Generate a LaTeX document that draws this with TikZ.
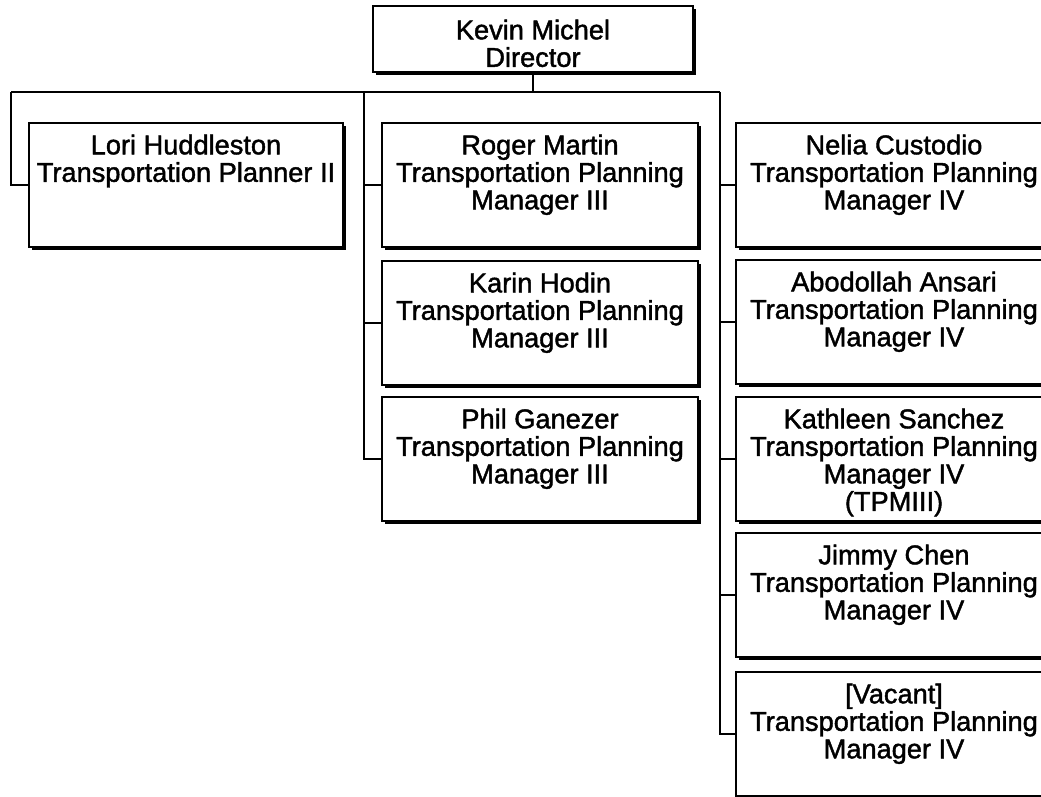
\documentclass[tikz,border=0pt]{standalone}
\usepackage{fontspec}
\newfontfamily\chartfont[BoldFont={Liberation Sans}, BoldFeatures={FakeBold=1.5}]{Liberation Sans}
\tikzset{
  orgbox/.style={rectangle, draw=black, line width=1.2pt, fill=white,
    minimum width=316pt, minimum height=124pt, inner sep=0pt,
    preaction={fill=black, transform canvas={shift={(2.6pt,-2.6pt)}}}},
  orgtxt/.style={anchor=north, align=center, inner sep=0pt, text=black,
    font=\chartfont\bfseries\fontsize{27.2}{27.5}\selectfont},
  link/.style={draw=black, line width=1.2pt}
}
\begin{document}
\begin{tikzpicture}[x=1pt,y=-1pt]
\useasboundingbox (0,0) rectangle (1041,797);
\clip (0,0) rectangle (1041,797);
\fill[white] (0,0) rectangle (1041,797);

% director
\node[orgbox, minimum width=320pt, minimum height=66pt] (dir) at (533,39) {};
\node[orgtxt] (dirt) at ([yshift=-14pt]dir.north) {Kevin Michel\\Director};

% left
\node[orgbox, minimum width=314pt] (lori) at (186,185) {};
\node[orgtxt] (lorit) at ([yshift=-12pt]lori.north) {Lori Huddleston\\Transportation Planner II};

% middle column
\node[orgbox] (roger) at (540,185) {};
\node[orgtxt] (rogert) at ([yshift=-12pt]roger.north) {Roger Martin\\Transportation Planning\\Manager III};
\node[orgbox] (karin) at (540,323) {};
\node[orgtxt] (karint) at ([yshift=-12pt]karin.north) {Karin Hodin\\Transportation Planning\\Manager III};
\node[orgbox] (phil) at (540,459) {};
\node[orgtxt] (philt) at ([yshift=-12pt]phil.north) {Phil Ganezer\\Transportation Planning\\Manager III};

% right column
\node[orgbox] (nelia) at (894,185) {};
\node[orgtxt] (neliat) at ([yshift=-12pt]nelia.north) {Nelia Custodio\\Transportation Planning\\Manager IV};
\node[orgbox] (abod) at (894,322) {};
\node[orgtxt] (abodt) at ([yshift=-12pt]abod.north) {Abodollah Ansari\\Transportation Planning\\Manager IV};
\node[orgbox] (kath) at (894,459) {};
\node[orgtxt] (katht) at ([yshift=-12pt]kath.north) {Kathleen Sanchez\\Transportation Planning\\Manager IV\\(TPMIII)};
\node[orgbox] (jimmy) at (894,595) {};
\node[orgtxt] (jimmyt) at ([yshift=-12pt]jimmy.north) {Jimmy Chen\\Transportation Planning\\Manager IV};
\node[orgbox] (vac) at (894,734) {};
\node[orgtxt] (vact) at ([yshift=-12pt]vac.north) {[Vacant]\\Transportation Planning\\Manager IV};

% bus coordinates
\coordinate (bL) at (11,92);
\coordinate (bM) at (364,92);
\coordinate (bR) at (720,92);

% connectors
\draw[link] (dir.south) -- (dir.south |- bM);
\draw[link] (bL) -- (bR);
\draw[link] (bL) |- (lori.west);
\draw[link] (bM) |- (phil.west);
\draw[link] (roger.west) -- (roger.west -| bM);
\draw[link] (karin.west) -- (karin.west -| bM);
\draw[link] (bR) |- (vac.west);
\draw[link] (nelia.west) -- (nelia.west -| bR);
\draw[link] (abod.west) -- (abod.west -| bR);
\draw[link] (kath.west) -- (kath.west -| bR);
\draw[link] (jimmy.west) -- (jimmy.west -| bR);
\end{tikzpicture}
\end{document}
